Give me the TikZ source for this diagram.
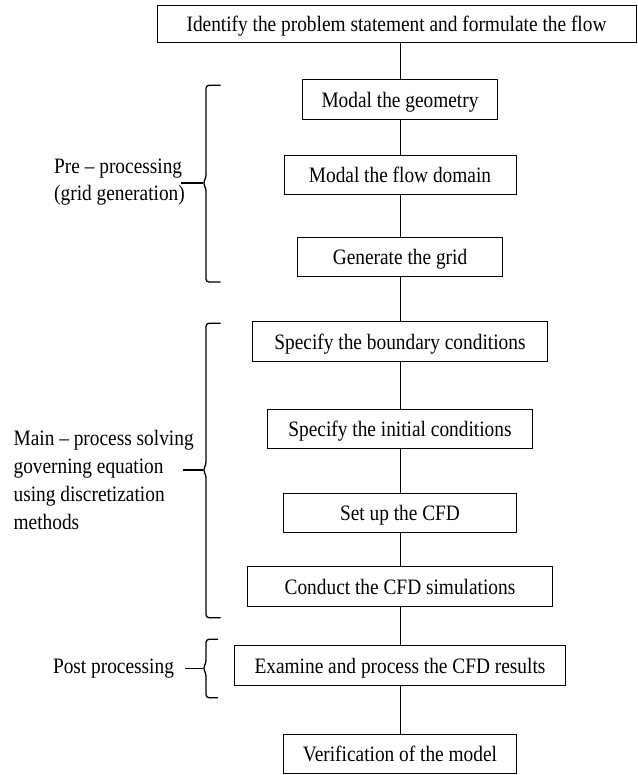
\documentclass[tikz,border=0pt]{standalone}
\usepackage{fontspec}
\setmainfont{Liberation Serif}[FakeStretch=0.88]
\usepackage{tikz}
\usetikzlibrary{positioning}

\begin{document}
\begin{tikzpicture}[x=1pt, y=-1pt,
    stepbox/.style={draw, line width=0.9pt, minimum height=39.5pt, inner sep=0pt,
        text height=17pt, text depth=1.5pt, font=\fontsize{22}{26}\selectfont},
    sidelabel/.style={anchor=west, align=left, inner sep=0pt,
        font=\fontsize{22}{28}\selectfont},
    link/.style={line width=0.9pt},
    bracket/.style={line width=1.3pt, rounded corners=3pt}]
    \useasboundingbox (0,0) rectangle (637,775);

    % Caja inicial
    \node[stepbox, minimum width=479pt, minimum height=37pt] (flow) at (396.5,23.5)
        {Identify the problem statement and formulate the flow};

    % Pasos del proceso
    \foreach \name/\y/\w/\txt in {
        geom/99.5/195/Modal the geometry,
        domain/175/232/Modal the flow domain,
        grid/257/205/Generate the grid,
        bound/341.5/294.5/Specify the boundary conditions,
        init/429/264.5/Specify the initial conditions,
        setup/513/232.5/Set up the CFD,
        sim/586.5/304.6/Conduct the CFD simulations,
        exam/665.5/331/Examine and process the CFD results,
        verif/754/232.5/Verification of the model
    } {
        \node[stepbox, minimum width=\w pt] (\name) at (400,\y) {\txt};
    }

    % Conectores
    \foreach \a/\b in {flow/geom, geom/domain, domain/grid, grid/bound,
        bound/init, init/setup, setup/sim, sim/exam, exam/verif}
        \draw[link] (\a.south -| \b.north) -- (\b.north);

    % Llaves de las etapas
    \foreach \ya/\ym/\yb/\xt/\xe in {
        85.3/183/282/181/220.6,
        323.3/470/617.7/183/220.6,
        639.3/668.3/697.7/185/218
    } {
        \draw[bracket] (\xe,\ya) -- (206,\ya) -- (206,\ym-5) -- (203,\ym)
            -- (206,\ym+5) -- (206,\yb) -- (\xe,\yb);
        \draw[bracket] (\xt,\ym) -- (203,\ym);
    }

    % Etiquetas de las etapas
    \node[sidelabel, font=\fontsize{22}{26.3}\selectfont] (pre) at (54,182)
        {Pre -- processing\\(grid generation)};
    \node[sidelabel] (main) at (13.4,480)
        {Main -- process solving\\governing equation\\using discretization\\methods};
    \node[sidelabel] (post) at (52.8,669) {Post processing};
\end{tikzpicture}
\end{document}
